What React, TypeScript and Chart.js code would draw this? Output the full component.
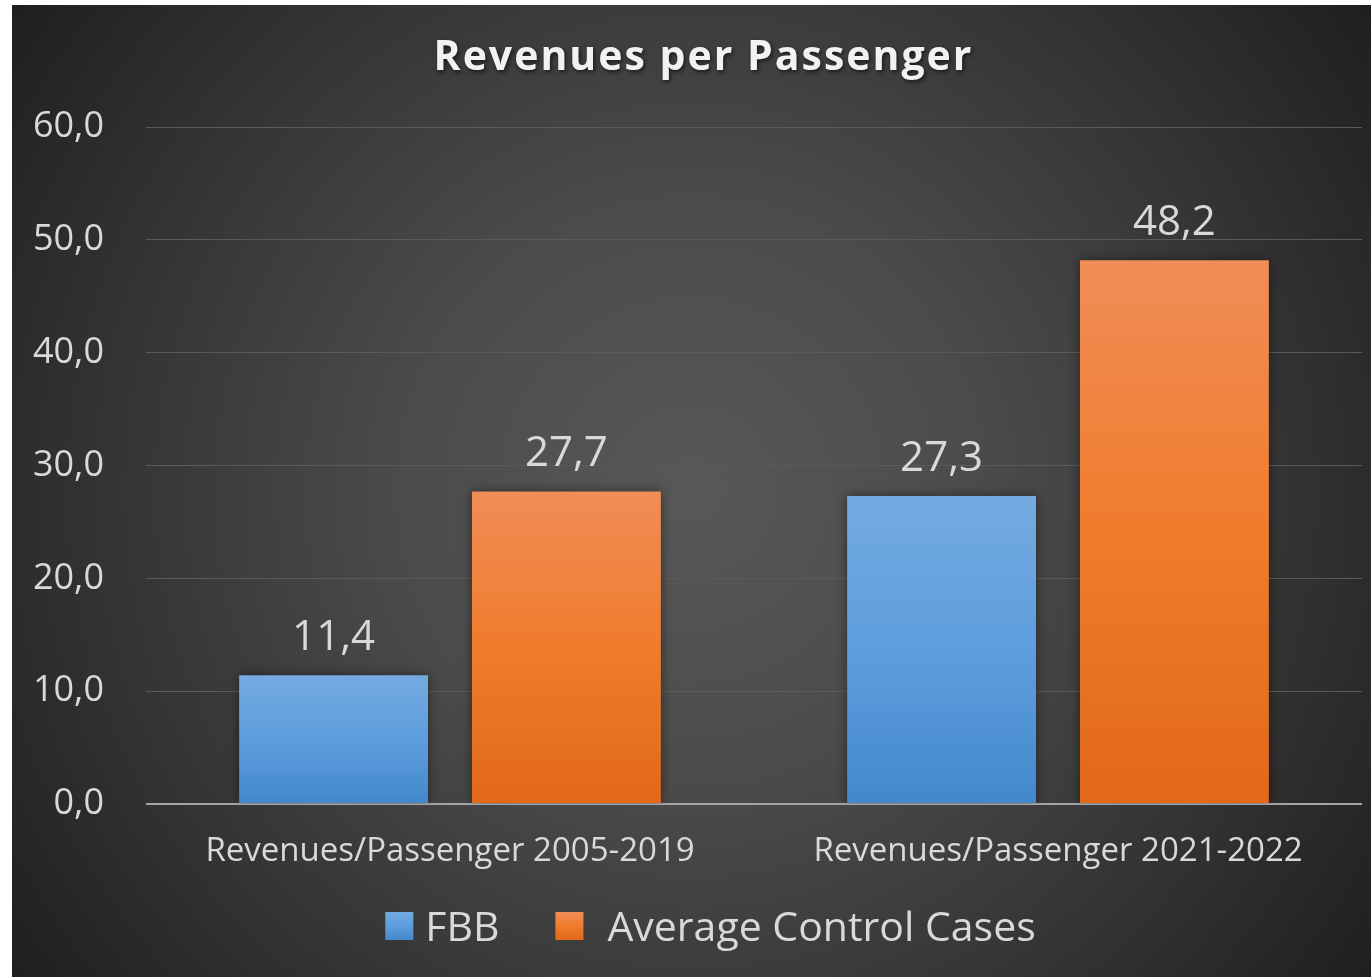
import React, { useEffect, useRef } from "react";
import { Chart, registerables } from "chart.js";

Chart.register(...registerables);

const categories = ["Revenues/Passenger 2005-2019", "Revenues/Passenger 2021-2022"];
const fbbValues = [11.4, 27.3];
const controlValues = [27.7, 48.2];
const seriesNames = ["FBB", "Average Control Cases"];
const chartTitle = "Revenues per Passenger";

const FONT = "'Open Sans', 'DejaVu Sans', sans-serif";
const TEXT = "#d9d9d9";
const BLUE_STOPS: [number, string][] = [[0, "#74aae0"], [0.5, "#5d9edd"], [1, "#4488cc"]];
const ORANGE_STOPS: [number, string][] = [[0, "#f18d57"], [0.5, "#f07c2c"], [1, "#e2681a"]];

const fmt = (v: number) => v.toFixed(1).replace(".", ",");

function linGrad(c: CanvasRenderingContext2D, top: number, bottom: number, stops: [number, string][]) {
  const g = c.createLinearGradient(0, top, 0, bottom);
  stops.forEach(([o, col]) => g.addColorStop(o, col));
  return g;
}

function barGradient(ctx: any, stops: [number, string][], solid: string) {
  const chart = ctx.chart;
  if (!chart.chartArea || ctx.raw == null) return solid;
  const y = chart.scales.y;
  const top = y.getPixelForValue(ctx.raw);
  const bottom = y.getPixelForValue(0);
  if (!isFinite(top) || !isFinite(bottom) || top === bottom) return solid;
  return linGrad(chart.ctx, top, bottom, stops);
}

const decorPlugin = {
  id: "decor",
  beforeDatasetsDraw(chart: any) {
    const c = chart.ctx;
    c.save();
    c.shadowColor = "rgba(0,0,0,0.45)";
    c.shadowBlur = 10;
  },
  afterDatasetsDraw(chart: any) {
    const c = chart.ctx;
    c.restore();
    // data labels
    c.save();
    c.font = `42px ${FONT}`;
    c.fillStyle = TEXT;
    c.textAlign = "center";
    c.textBaseline = "alphabetic";
    chart.data.datasets.forEach((ds: any, di: number) => {
      const meta = chart.getDatasetMeta(di);
      meta.data.forEach((el: any, i: number) => {
        c.fillText(fmt(ds.data[i]), el.x, el.y - 25);
      });
    });
    c.restore();
  },
  afterDraw(chart: any) {
    const c = chart.ctx;
    const W = chart.width;
    // title
    c.save();
    c.font = `bold 41px ${FONT}`;
    (c as any).letterSpacing = "2px";
    c.fillStyle = "#f2f2f2";
    c.textAlign = "center";
    c.textBaseline = "alphabetic";
    c.shadowColor = "rgba(0,0,0,0.6)";
    c.shadowBlur = 4;
    c.shadowOffsetX = 1.5;
    c.shadowOffsetY = 2;
    c.fillText(chartTitle, W / 2 + 12, 65);
    c.restore();

    // legend
    c.save();
    c.font = `41px ${FONT}`;
    c.textBaseline = "middle";
    c.textAlign = "left";
    const box = 28;
    const cy = 921;
    const gaps = [12, 24];
    const itemGap = 56;
    const widths = seriesNames.map((t) => c.measureText(t).width);
    let total = 0;
    widths.forEach((w, i) => {
      total += box + gaps[i] + w + (i < widths.length - 1 ? itemGap : 0);
    });
    let x = W / 2 + 19 - total / 2;
    const stops = [BLUE_STOPS, ORANGE_STOPS];
    seriesNames.forEach((t, i) => {
      c.fillStyle = linGrad(c, cy - box / 2, cy + box / 2, stops[i]);
      c.fillRect(x, cy - box / 2, box, box);
      x += box + gaps[i];
      c.fillStyle = TEXT;
      c.fillText(t, x, cy + 3);
      x += widths[i] + itemGap;
    });
    c.restore();
  },
};

export default function App() {
  const ref = useRef<HTMLCanvasElement>(null);
  useEffect(() => {
    if (!ref.current) return;
    const chart = new Chart(ref.current, {
      type: "bar",
      data: {
        labels: categories,
        datasets: [
          {
            label: seriesNames[0],
            data: fbbValues,
            backgroundColor: (ctx: any) => barGradient(ctx, BLUE_STOPS, "#5b9bd5"),
            barPercentage: 0.811,
            categoryPercentage: 0.766,
          },
          {
            label: seriesNames[1],
            data: controlValues,
            backgroundColor: (ctx: any) => barGradient(ctx, ORANGE_STOPS, "#ed7d31"),
            barPercentage: 0.811,
            categoryPercentage: 0.766,
          },
        ],
      },
      options: {
        responsive: false,
        maintainAspectRatio: false,
        animation: false,
        layout: { padding: { left: 0, right: 9, top: 122, bottom: 77.4 } },
        plugins: {
          title: { display: false },
          legend: { display: false },
          tooltip: { enabled: false },
        },
        scales: {
          x: {
            grid: { display: false, drawTicks: false },
            border: { display: false },
            ticks: { color: TEXT, font: { family: FONT, size: 33 }, padding: 28 },
          },
          y: {
            min: 0,
            max: 60,
            afterFit: (s: any) => {
              s.width = 134;
            },
            grid: {
              drawTicks: false,
              color: (c: any) => (c.tick && c.tick.value === 0 ? "#a5a5a5" : "#5a5a5a"),
              lineWidth: (c: any) => (c.tick && c.tick.value === 0 ? 2 : 1),
            },
            border: { display: false },
            ticks: {
              stepSize: 10,
              color: TEXT,
              font: { family: FONT, size: 36 },
              padding: 42,
              callback: (v: any) => fmt(Number(v)),
            },
          },
        },
      },
      plugins: [decorPlugin],
    });
    return () => chart.destroy();
  }, []);

  return (
    <div
      style={{
        position: "absolute",
        left: 12,
        top: 5,
        width: 1359,
        height: 972,
        background:
          "radial-gradient(circle farthest-corner at 50% 50%, #585858 0%, #4b4b4b 35%, #343434 70%, #1f1f1f 100%)",
      }}
    >
      <canvas ref={ref} width={1359} height={972} style={{ display: "block" }} />
    </div>
  );
}
